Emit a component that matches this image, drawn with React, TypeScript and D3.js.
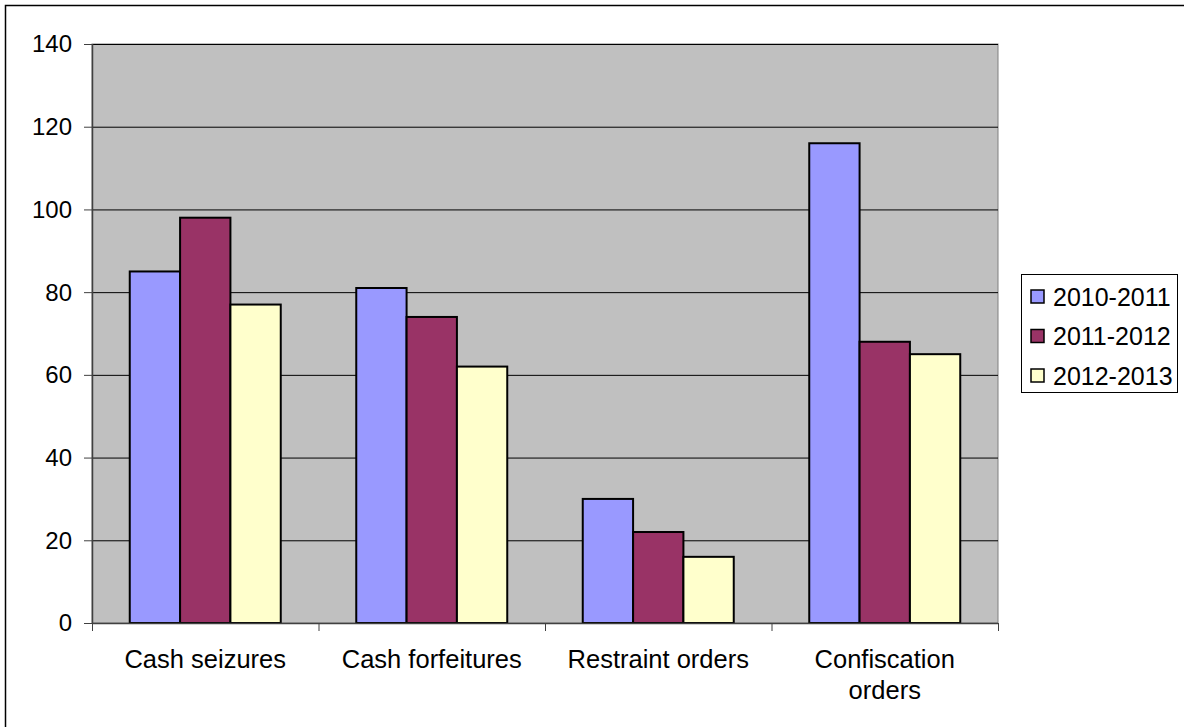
import React from "react";
import * as d3 from "d3";

const categories = [["Cash seizures"], ["Cash forfeitures"], ["Restraint orders"], ["Confiscation", "orders"]];
const seriesNames = ["2010-2011", "2011-2012", "2012-2013"];
const seriesColors = ["#9999FF", "#993366", "#FFFFCC"];
const values = [
  [85, 81, 30, 116],
  [98, 74, 22, 68],
  [77, 62, 16, 65],
];
const yTicks = [0, 20, 40, 60, 80, 100, 120, 140];

const left = 92;
const right = 998;
const top = 44;
const bottom = 623;
const font = "'Liberation Sans', Arial, sans-serif";

const App = () => {
  const x = d3
    .scaleBand()
    .domain(categories.map((c, i) => String(i)))
    .range([left, right])
    .paddingInner(0)
    .paddingOuter(0);
  const bw = x.bandwidth() / 4.5;
  const y = d3.scaleLinear().domain([0, 140]).range([bottom, top]);

  return (
    <svg width={1184} height={727} style={{ position: "absolute", left: 0, top: 0, fontFamily: font }}>
      <rect x={0} y={0} width={1184} height={727} fill="#fff" />
      <rect x={5.5} y={5.5} width={1300} height={900} fill="none" stroke="#000" strokeWidth={1.5} />
      <rect x={left} y={top} width={right - left} height={bottom - top} fill="#C0C0C0" stroke="#808080" />
      {yTicks.slice(1).map((t) => (
        <line key={t} x1={left} x2={right} y1={y(t) + 0.5} y2={y(t) + 0.5} stroke="#000" strokeWidth={1} />
      ))}
      {values.map((s, si) =>
        s.map((v, ci) => (
          <rect
            key={si + "-" + ci}
            x={(x(String(ci)) as number) + bw * 0.75 + si * bw}
            y={y(v)}
            width={bw}
            height={bottom - y(v)}
            fill={seriesColors[si]}
            stroke="#000"
            strokeWidth={2}
          />
        ))
      )}
      <line x1={left + 0.5} x2={left + 0.5} y1={top} y2={bottom} stroke="#404040" strokeWidth={1.5} />
      <line x1={left} x2={right} y1={bottom + 0.5} y2={bottom + 0.5} stroke="#404040" strokeWidth={1.5} />
      {yTicks.map((t) => (
        <g key={t}>
          <line x1={left - 8} x2={left} y1={y(t) + 0.5} y2={y(t) + 0.5} stroke="#404040" />
          <text x={72} y={y(t)} dy="0.35em" textAnchor="end" fontSize={24} fill="#000">
            {t}
          </text>
        </g>
      ))}
      {categories.map((c, i) => (
        <line
          key={"t" + i}
          x1={(x(String(i)) as number) + 0.5}
          x2={(x(String(i)) as number) + 0.5}
          y1={bottom}
          y2={bottom + 8}
          stroke="#404040"
        />
      ))}
      <line x1={right + 0.5} x2={right + 0.5} y1={bottom} y2={bottom + 8} stroke="#404040" />
      {categories.map((c, i) => (
        <text
          key={"c" + i}
          x={(x(String(i)) as number) + x.bandwidth() / 2}
          y={668}
          textAnchor="middle"
          fontSize={25.5}
          fill="#000"
        >
          {c.map((line, li) => (
            <tspan key={li} x={(x(String(i)) as number) + x.bandwidth() / 2} dy={li === 0 ? 0 : 31}>
              {line}
            </tspan>
          ))}
        </text>
      ))}
      <rect x={1021.5} y={274.5} width={156} height={118} fill="#fff" stroke="#000" />
      {seriesNames.map((n, i) => (
        <g key={n}>
          <rect x={1031} y={290 + i * 39.5} width={13} height={13} fill={seriesColors[i]} stroke="#000" strokeWidth={1.5} />
          <text x={1053} y={297 + i * 39.5} dy="0.35em" fontSize={25} fill="#000">
            {n}
          </text>
        </g>
      ))}
    </svg>
  );
};

export default App;
